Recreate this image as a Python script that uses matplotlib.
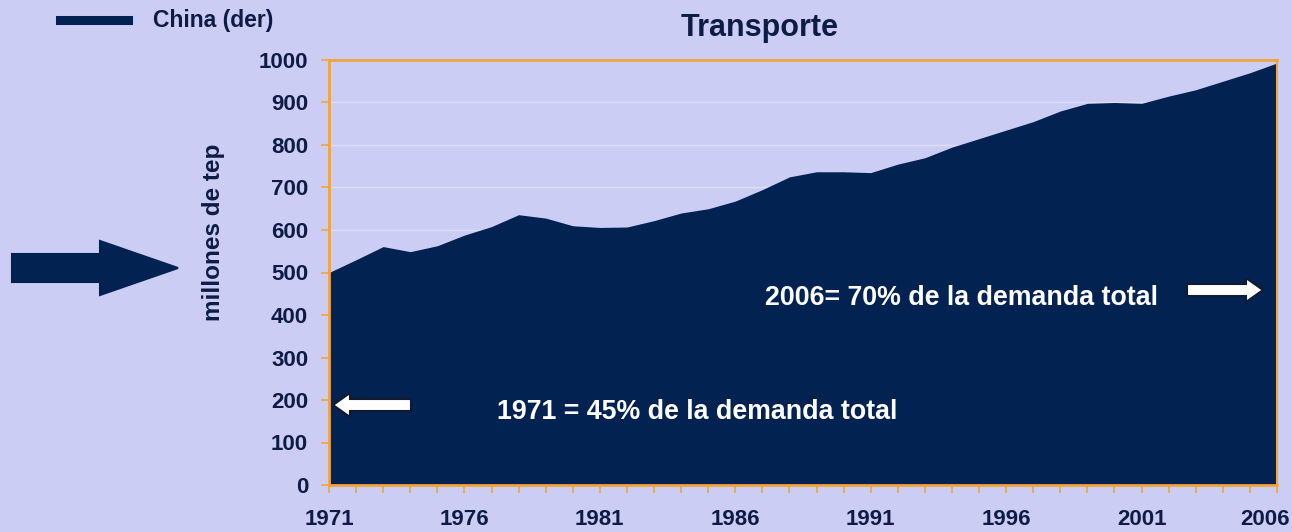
import numpy as np
import matplotlib
matplotlib.use("Agg")
import matplotlib.pyplot as plt
from matplotlib.patches import Polygon
from matplotlib.lines import Line2D
from matplotlib import transforms

# data (millones de tep, China transport demand)
years = list(range(1971, 2007))
demand = [500, 530, 561, 549, 563, 588, 608, 636, 628, 610,
          606, 607, 622, 640, 650, 668, 695, 725, 737, 737,
          735, 755, 770, 795, 815, 835, 855, 880, 898, 900,
          898, 915, 930, 950, 970, 993]
yticks = list(range(0, 1001, 100))
xlabels = [1971, 1976, 1981, 1986, 1991, 1996, 2001, 2006]

bg = '#cccdf5'
navy = '#022252'
txt = '#0e1c45'
orange = '#f2a43a'
sans = ['Liberation Sans', 'DejaVu Sans']

W, H = 1292, 532
fig = plt.figure(figsize=(W / 100, H / 100), dpi=100, facecolor=bg)
ax = fig.add_axes([329 / W, 1 - 485 / H, 948 / W, 425 / H], facecolor=bg)

ax.fill_between(years, demand, 0, color=navy, linewidth=0)
ax.set_xlim(1971, 2006)
ax.set_ylim(0, 1000)

# faint horizontal grid
for v in yticks[1:-1]:
    ax.axhline(v, color='white', alpha=0.35, linewidth=1, zorder=0)

for s in ax.spines.values():
    s.set_color(orange)
    s.set_linewidth(2)
ax.spines['right'].set_linewidth(1.5)

ax.set_yticks(yticks)
ax.set_xticks(xlabels)
ax.set_xticks(years, minor=True)
ax.tick_params(axis='both', which='both', color=orange, length=6, width=1.2)
ax.tick_params(axis='y', pad=9)
ax.tick_params(axis='x', which='major', pad=11)
for lab in ax.get_xticklabels() + ax.get_yticklabels():
    lab.set_family(sans)
    lab.set_fontweight('bold')
    lab.set_fontsize(16)
    lab.set_color(txt)
last = ax.get_xticklabels()[-1]
last.set_ha('right')
last.set_transform(last.get_transform() +
                   transforms.ScaledTranslation(13 / 100, 0, fig.dpi_scale_trans))

ax.set_ylabel('millones de tep', family=sans, fontweight='bold',
              fontsize=17.5, color=txt)
ax.yaxis.set_label_coords(-104 / 948, 253 / 425)

fig.text(760 / W, 1 - 28 / H, 'Transporte', family=sans, fontweight='bold',
         fontsize=22, color=txt, ha='center', va='center')

# legend
fig.add_artist(Line2D([60 / W, 128 / W], [1 - 20 / H, 1 - 20 / H],
                      color=navy, linewidth=6.5, transform=fig.transFigure))
fig.text(153 / W, 1 - 20 / H, 'China (der)', family=sans, fontweight='bold',
         fontsize=16.5, color=txt, ha='left', va='center')

# annotations inside the area
fig.text(765 / W, 1 - 298 / H, '2006= 70% de la demanda total', family=sans,
         fontweight='bold', fontsize=19.3, color='white', ha='left', va='center')
fig.text(497 / W, 1 - 412 / H, '1971 = 45% de la demanda total', family=sans,
         fontweight='bold', fontsize=19.3, color='white', ha='left', va='center')

# arrows drawn in pixel space (origin top-left)
px = transforms.Affine2D().scale(1 / W, -1 / H).translate(0, 1) + fig.transFigure


def arrow(x0, x1, yc, shaft, head, headlen, face, edge):
    d = 1 if x1 > x0 else -1
    xb = x1 - d * headlen
    pts = [(x0, yc - shaft), (xb, yc - shaft), (xb, yc - head), (x1, yc),
           (xb, yc + head), (xb, yc + shaft), (x0, yc + shaft)]
    fig.add_artist(Polygon(pts, closed=True, facecolor=face, edgecolor=edge,
                           linewidth=1.5, transform=px))


arrow(12, 178, 268, 14, 27, 78, navy, navy)
arrow(411, 333, 405, 6, 12, 17, 'white', '#111a30')
arrow(1187, 1263, 290, 6, 12, 17, 'white', '#111a30')

fig.savefig('out.png', dpi=100, facecolor=bg)
